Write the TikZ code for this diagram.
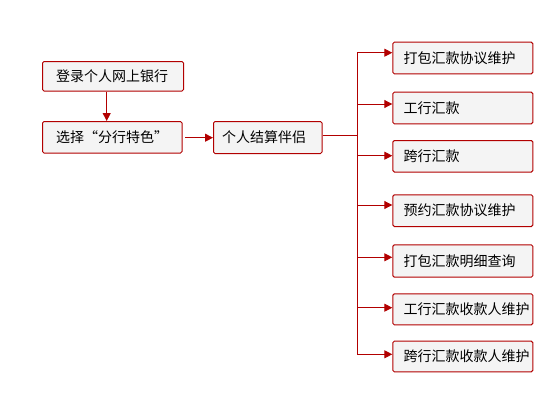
\documentclass[tikz,border=0pt]{standalone}
\usepackage{fontspec}
\setmainfont{Noto Sans CJK SC}
\usetikzlibrary{arrows.meta}
\definecolor{dred}{RGB}{178,0,0}
\definecolor{boxfill}{RGB}{244,244,244}
\tikzset{
  box/.style={draw=dred, fill=boxfill, line width=1pt, rounded corners=1.5pt,
    anchor=north west, inner sep=0pt},
  lbl/.style={anchor=west, inner sep=0pt, font=\fontsize{14}{16}\selectfont},
  conn/.style={draw=dred, line width=1pt},
  arr/.style={conn, -{Triangle[length=8pt,width=8pt]}},
}
\begin{document}
\begin{tikzpicture}[x=1pt,y=-1pt]
\useasboundingbox (0,0) rectangle (550,400);
\fill[white] (0,0) rectangle (550,400);
% left boxes
\node[box, minimum width=141pt, minimum height=29.5pt] (a) at (42,61) {};
\node[lbl] (at) at ([xshift=14pt]a.west) {登录个人网上银行};
\node[box, minimum width=139.5pt, minimum height=31.5pt] (b) at (42,121) {};
\node[lbl] (bt) at ([xshift=14pt]b.west) {选择“分行特色”};
\node[box, minimum width=108.5pt, minimum height=32pt] (c) at (213,121) {};
\node[lbl] (ct) at ([xshift=9pt]c.west) {个人结算伴侣};
% right boxes
\foreach \n/\y/\h/\t in {r1/41.7/31.6/打包汇款协议维护, r2/91.7/31.6/工行汇款, r3/140/31.5/跨行汇款, r4/194.3/31.7/预约汇款协议维护, r5/244.3/32.4/打包汇款明细查询, r6/293.3/31/工行汇款收款人维护, r7/340.7/30.6/跨行汇款收款人维护}{
  \node[box, minimum width=140pt, minimum height=\h pt] (\n) at (392.3,\y) {};
  \node[lbl] (\n t) at ([xshift=11pt]\n.west) {\t};
}
% connectors
\draw[arr] (a.south -| 106.7,0) -- (b.north -| 106.7,0);
\coordinate (bc) at (b.east |- 0,137.7);
\draw[arr] ([xshift=2.5pt]bc) -- (c.west |- bc);
\coordinate (trunkC) at (357,135);
\draw[conn] (c.east |- trunkC) -- (trunkC);
\coordinate (t1) at (357,52.7);
\coordinate (t2) at (357,104);
\coordinate (t3) at (357,155.7);
\coordinate (t4) at (357,205);
\coordinate (t5) at (357,257.3);
\coordinate (t6) at (357,307.7);
\coordinate (t7) at (357,354.3);
\draw[conn] (t1) -- (t7);
\foreach \i in {1,...,7}{
  \draw[arr] (t\i) -- (t\i -| r\i.west);
}
\end{tikzpicture}
\end{document}
